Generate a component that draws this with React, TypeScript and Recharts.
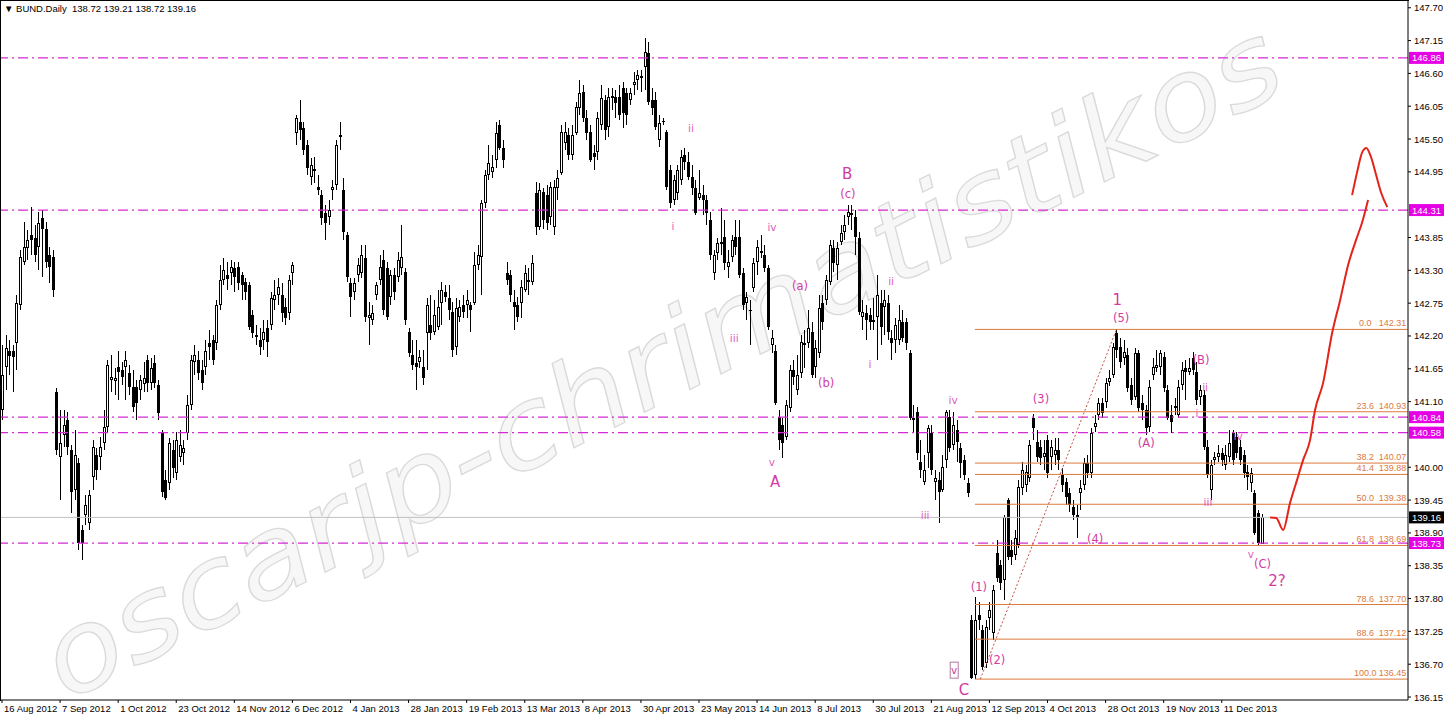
import React from 'react';
import {ComposedChart, Bar, Line, Scatter, XAxis, YAxis, ReferenceLine} from 'recharts';

const FONT = "Tahoma, 'Liberation Sans', Arial, sans-serif";

// daily OHLC, BUND, 16 Aug 2012 .. late Dec 2013
const opens = [
    140.96, 141.68, 141.94, 141.94, 142.08, 142.72, 143.44, 143.67, 143.89, 143.84,
    143.69, 144.17, 144.00, 143.56, 143.52, 141.26, 140.17, 140.54, 140.79, 140.29,
    139.62, 140.07, 138.95, 139.20, 139.06, 139.83, 140.20, 140.17, 140.40, 140.67,
    141.46, 141.45, 141.68, 141.63, 141.68, 141.58, 141.34, 141.34, 141.29, 141.40,
    141.80, 141.41, 141.75, 141.38, 140.57, 139.78, 139.73, 140.29, 139.90, 140.17,
    140.24, 140.57, 141.04, 141.76, 141.80, 141.63, 141.68, 142.08, 142.13, 142.08,
    142.72, 143.14, 143.22, 143.25, 143.34, 143.35, 143.22, 143.10, 143.05, 142.55,
    142.18, 142.13, 142.13, 142.33, 142.38, 142.80, 142.88, 142.88, 142.68, 142.58,
    143.25, 145.60, 145.79, 145.69, 145.40, 144.86, 145.00, 144.70, 144.56, 144.26,
    144.19, 144.65, 144.73, 145.54, 144.65, 143.89, 143.09, 142.94, 143.22, 143.25,
    143.51, 142.50, 142.47, 142.88, 143.14, 143.47, 143.34, 142.85, 143.22, 143.19,
    143.34, 143.27, 142.27, 141.88, 141.75, 141.76, 141.68, 142.25, 142.38, 142.27,
    142.35, 142.75, 142.94, 142.84, 142.60, 142.02, 142.52, 142.72, 142.72, 142.72,
    142.75, 143.39, 143.52, 144.43, 144.90, 144.95, 145.15, 145.73, 145.35, 143.25,
    143.22, 142.77, 142.72, 142.75, 142.97, 143.14, 143.10, 144.60, 144.03, 144.61,
    144.56, 144.19, 144.03, 144.68, 144.93, 145.43, 145.57, 145.23, 145.60, 146.02,
    146.29, 145.85, 145.62, 145.27, 145.28, 145.73, 146.16, 145.70, 146.22, 146.21,
    146.21, 146.36, 146.27, 146.16, 146.41, 146.49, 146.56, 146.71, 146.94, 146.16,
    146.16, 145.48, 145.80, 145.62, 144.98, 144.48, 144.60, 144.81, 145.23, 145.12,
    144.86, 144.68, 144.51, 144.56, 144.48, 144.14, 143.25, 143.59, 143.74, 143.86,
    143.35, 143.52, 143.86, 143.86, 143.25, 142.75, 142.63, 143.00, 143.44, 143.59,
    143.56, 143.34, 142.05, 141.94, 140.84, 140.71, 140.50, 140.99, 141.63, 141.29,
    141.58, 142.08, 142.08, 142.27, 141.68, 141.92, 142.75, 142.80, 143.10, 143.67,
    143.39, 143.77, 143.94, 144.19, 144.26, 144.19, 143.84, 142.52, 142.58, 142.55,
    142.47, 142.52, 142.75, 142.68, 142.75, 142.17, 142.13, 142.13, 142.43, 142.43,
    141.92, 140.79, 140.93, 140.09, 139.75, 140.24, 140.57, 139.75, 139.78, 139.62,
    140.12, 140.84, 140.37, 140.62, 140.32, 140.12, 139.73, 137.44, 136.52, 137.52,
    137.27, 136.72, 137.47, 137.22, 138.56, 138.36, 138.11, 139.45, 138.61, 138.53,
    138.69, 139.65, 139.70, 139.82, 140.82, 140.42, 140.34, 140.17, 140.45, 140.17,
    140.20, 140.29, 139.87, 139.75, 139.57, 139.33, 139.20, 139.57, 139.70, 140.07,
    139.90, 140.67, 140.87, 141.08, 141.10, 141.43, 141.55, 142.25, 142.02, 141.83,
    141.88, 141.38, 141.18, 141.91, 141.08, 140.96, 140.67, 141.55, 141.66, 141.68,
    141.85, 141.29, 140.87, 140.99, 140.87, 141.38, 141.66, 141.60, 141.83, 141.60,
    141.18, 141.21, 140.34, 139.62, 140.12, 140.17, 140.24, 140.04, 140.17, 140.57,
    140.50, 140.34, 140.20, 139.92, 139.73, 139.57, 139.23, 138.72,
];

const highs = [
    142.05, 142.22, 142.13, 142.05, 142.88, 143.64, 144.11, 143.97, 144.36, 144.06,
    144.28, 144.31, 144.11, 143.69, 143.64, 141.33, 140.96, 140.96, 140.93, 140.37,
    140.62, 140.15, 139.03, 139.53, 139.62, 140.45, 140.32, 140.50, 140.96, 141.80,
    141.88, 141.66, 141.94, 141.76, 141.94, 141.71, 141.63, 141.46, 141.55, 141.76,
    141.88, 141.83, 141.88, 141.46, 140.62, 139.95, 140.49, 140.45, 140.59, 140.62,
    140.45, 141.21, 141.88, 142.05, 141.94, 141.80, 142.13, 142.30, 142.22, 142.80,
    143.39, 143.51, 143.44, 143.47, 143.44, 143.44, 143.27, 143.17, 143.10, 142.63,
    142.38, 142.33, 142.47, 142.47, 142.94, 143.14, 143.17, 143.09, 142.84, 143.22,
    143.44, 145.90, 146.16, 145.79, 145.48, 145.18, 145.20, 144.90, 144.65, 144.40,
    144.48, 144.81, 145.48, 145.79, 144.85, 143.94, 143.17, 143.17, 143.51, 143.72,
    143.72, 142.77, 142.72, 143.10, 143.56, 143.64, 143.44, 143.30, 143.34, 143.61,
    144.06, 143.34, 142.33, 142.13, 142.13, 141.97, 141.97, 142.84, 142.88, 142.80,
    142.97, 143.10, 143.05, 143.05, 142.77, 142.84, 142.80, 142.88, 142.97, 142.77,
    143.61, 143.72, 144.48, 144.98, 145.40, 145.23, 145.79, 145.82, 145.48, 143.44,
    143.30, 142.97, 142.85, 143.14, 143.39, 143.34, 143.56, 144.78, 144.77, 144.68,
    144.73, 144.78, 144.81, 144.98, 145.73, 145.79, 145.69, 145.73, 146.12, 146.49,
    146.41, 145.99, 145.73, 145.40, 145.95, 146.41, 146.24, 146.36, 146.36, 146.32,
    146.41, 146.46, 146.36, 146.36, 146.63, 146.66, 146.66, 147.19, 147.13, 146.36,
    146.29, 145.90, 145.85, 145.65, 145.07, 144.90, 145.07, 145.32, 145.35, 145.28,
    145.07, 144.81, 144.98, 144.73, 144.56, 144.28, 143.64, 143.84, 144.35, 144.14,
    143.64, 143.89, 144.14, 144.14, 143.34, 142.94, 142.80, 143.51, 143.81, 143.89,
    143.72, 143.39, 142.30, 142.05, 140.96, 140.82, 141.13, 141.71, 141.80, 141.88,
    142.22, 142.30, 142.63, 142.43, 142.13, 142.88, 142.88, 143.22, 143.81, 143.81,
    143.77, 144.06, 144.23, 144.40, 144.40, 144.31, 143.94, 142.80, 142.72, 142.67,
    142.84, 143.22, 142.97, 142.97, 142.88, 142.30, 142.50, 142.72, 142.63, 142.50,
    141.97, 141.04, 141.01, 140.45, 140.20, 140.71, 140.71, 139.95, 139.92, 140.20,
    140.96, 140.96, 140.93, 140.79, 140.40, 140.20, 139.82, 137.52, 137.82, 137.74,
    137.35, 137.44, 137.74, 138.03, 138.78, 138.44, 139.20, 139.48, 138.78, 138.95,
    139.78, 140.09, 140.04, 140.45, 140.89, 140.62, 140.45, 140.45, 140.54, 140.45,
    140.49, 140.49, 139.99, 139.82, 139.65, 139.45, 139.37, 139.78, 140.15, 140.20,
    140.66, 140.87, 141.16, 141.16, 141.50, 141.63, 142.08, 142.31, 142.17, 142.13,
    142.00, 141.50, 142.00, 141.97, 141.21, 141.04, 141.46, 141.83, 141.97, 141.97,
    141.93, 141.38, 141.04, 141.16, 141.46, 141.76, 141.80, 141.83, 141.93, 141.76,
    141.38, 141.29, 140.45, 140.12, 140.25, 140.37, 140.32, 140.37, 140.62, 140.62,
    140.59, 140.45, 140.29, 140.04, 139.99, 139.62, 139.28, 139.21,
];

const lows = [
    140.79, 141.29, 141.55, 141.26, 141.63, 142.63, 143.39, 143.47, 143.56, 143.44,
    143.30, 143.19, 143.34, 143.09, 142.85, 140.20, 139.45, 140.34, 140.20, 139.23,
    139.45, 138.61, 138.44, 139.03, 138.95, 139.62, 139.78, 139.95, 140.29, 140.59,
    141.26, 141.21, 141.13, 141.38, 141.13, 141.21, 140.93, 140.79, 141.13, 141.26,
    141.26, 141.29, 141.33, 140.79, 139.50, 139.45, 139.62, 139.82, 139.78, 140.09,
    140.04, 140.45, 140.96, 141.55, 141.46, 141.29, 141.55, 141.80, 141.71, 141.97,
    142.63, 143.05, 142.97, 143.05, 142.94, 142.97, 142.80, 142.80, 142.30, 142.17,
    142.05, 141.88, 141.97, 141.84, 142.30, 142.63, 142.72, 142.44, 142.38, 142.47,
    143.05, 145.40, 145.48, 145.23, 144.90, 144.73, 144.76, 144.56, 144.06, 143.81,
    144.06, 144.48, 144.65, 145.32, 143.81, 143.10, 142.52, 142.80, 143.10, 143.17,
    142.43, 142.05, 142.38, 142.80, 143.05, 142.55, 142.47, 142.72, 142.80, 143.10,
    143.22, 142.38, 141.84, 141.63, 141.29, 141.66, 141.38, 141.63, 142.13, 142.22,
    142.30, 142.38, 142.77, 142.47, 141.85, 141.88, 142.43, 142.50, 142.50, 142.27,
    142.72, 143.30, 142.88, 144.35, 144.81, 144.85, 145.02, 145.32, 145.02, 143.05,
    142.77, 142.30, 142.43, 142.50, 142.94, 142.88, 143.05, 143.89, 143.97, 144.00,
    143.97, 144.06, 143.89, 144.48, 144.90, 145.32, 145.15, 145.15, 145.57, 145.90,
    145.79, 145.48, 145.12, 144.98, 145.15, 145.65, 145.48, 145.54, 145.99, 145.85,
    145.82, 145.69, 145.73, 146.07, 146.24, 146.32, 146.29, 146.32, 146.07, 145.90,
    145.65, 145.37, 145.73, 144.65, 144.35, 144.40, 144.48, 144.73, 144.98, 144.81,
    144.56, 144.23, 144.48, 144.23, 144.06, 143.47, 143.14, 143.47, 143.56, 143.30,
    143.17, 143.44, 143.56, 143.17, 142.63, 142.47, 142.05, 142.94, 143.22, 143.51,
    143.27, 142.30, 141.92, 141.04, 140.29, 140.15, 140.45, 140.93, 141.38, 141.21,
    141.50, 141.66, 142.00, 141.50, 141.50, 141.83, 142.30, 142.72, 143.05, 143.27,
    143.14, 143.72, 143.81, 144.06, 143.97, 143.56, 142.55, 142.30, 142.13, 142.30,
    142.30, 141.80, 142.05, 142.22, 142.13, 141.80, 141.92, 142.05, 142.10, 141.97,
    140.79, 140.59, 140.12, 139.82, 139.70, 139.99, 139.87, 139.45, 139.06, 139.58,
    139.99, 140.25, 140.29, 140.09, 139.82, 139.78, 139.50, 136.45, 136.45, 137.27,
    136.60, 136.63, 137.27, 137.10, 138.07, 137.94, 137.77, 138.44, 138.36, 138.44,
    138.64, 139.53, 139.58, 139.75, 140.45, 140.09, 140.04, 139.95, 139.82, 139.95,
    140.04, 139.95, 139.58, 139.37, 139.25, 139.11, 138.81, 139.28, 139.62, 139.82,
    139.82, 140.59, 140.79, 140.82, 140.99, 141.36, 141.50, 141.83, 141.66, 141.71,
    141.26, 141.04, 141.13, 140.93, 140.79, 140.54, 140.59, 141.46, 141.60, 141.55,
    141.26, 140.79, 140.57, 140.87, 140.82, 141.29, 141.13, 141.55, 141.55, 141.04,
    141.04, 140.29, 139.82, 139.45, 140.04, 140.09, 140.02, 139.95, 140.09, 140.04,
    140.15, 140.04, 139.82, 139.62, 139.58, 138.86, 138.69, 138.72,
];

const closes = [
    141.55, 142.00, 141.87, 141.84, 142.75, 143.52, 143.69, 143.81, 143.81, 143.56,
    144.09, 144.00, 143.44, 143.35, 142.97, 140.29, 140.40, 140.71, 140.34, 139.58,
    140.20, 138.73, 138.73, 139.37, 139.53, 140.34, 139.95, 140.34, 140.67, 141.71,
    141.51, 141.50, 141.60, 141.51, 141.80, 141.34, 141.01, 141.08, 141.46, 141.50,
    141.41, 141.66, 141.41, 140.91, 139.58, 139.48, 140.40, 139.99, 140.45, 140.37,
    140.32, 141.04, 141.80, 141.88, 141.58, 141.41, 141.94, 142.01, 141.80, 142.72,
    143.14, 143.30, 143.15, 143.35, 143.19, 143.09, 143.05, 142.94, 142.35, 142.25,
    142.22, 142.02, 142.27, 142.10, 142.84, 142.88, 143.02, 142.58, 142.50, 143.14,
    143.39, 145.85, 145.65, 145.32, 145.02, 145.07, 144.97, 144.65, 144.17, 144.09,
    144.31, 144.70, 145.40, 145.57, 143.94, 143.19, 142.85, 143.09, 143.39, 143.56,
    142.52, 142.55, 142.58, 143.05, 143.35, 142.63, 142.52, 143.22, 142.94, 143.47,
    143.52, 142.47, 141.92, 141.71, 141.68, 141.85, 141.50, 142.72, 142.25, 142.55,
    142.68, 142.97, 142.85, 142.63, 141.97, 142.67, 142.68, 142.60, 142.80, 142.63,
    143.39, 143.56, 144.43, 144.90, 145.10, 145.03, 145.60, 145.35, 145.15, 143.14,
    142.88, 142.68, 142.52, 143.02, 143.25, 143.10, 143.42, 144.03, 144.65, 144.14,
    144.09, 144.70, 144.70, 144.85, 145.62, 145.62, 145.23, 145.57, 146.04, 146.27,
    145.85, 145.60, 145.15, 145.20, 145.85, 146.19, 145.65, 146.21, 146.19, 146.11,
    145.90, 145.94, 145.90, 146.27, 146.46, 146.57, 146.52, 146.96, 146.12, 146.02,
    145.70, 145.77, 145.79, 144.70, 144.43, 144.81, 144.98, 145.20, 145.12, 144.86,
    144.68, 144.26, 144.60, 144.48, 144.26, 143.56, 143.56, 143.76, 143.77, 143.42,
    143.44, 143.81, 143.69, 143.22, 142.72, 142.85, 142.62, 143.42, 143.69, 143.62,
    143.34, 142.35, 142.17, 141.08, 140.45, 140.40, 141.04, 141.63, 141.51, 141.55,
    142.10, 142.05, 142.33, 141.55, 142.00, 142.67, 142.43, 143.14, 143.72, 143.42,
    143.67, 143.92, 144.06, 144.28, 144.23, 143.86, 142.60, 142.60, 142.47, 142.43,
    142.43, 142.88, 142.35, 142.80, 142.27, 142.08, 142.38, 142.47, 142.17, 142.08,
    140.82, 140.82, 140.24, 139.95, 139.95, 140.66, 139.95, 139.82, 139.58, 140.00,
    140.93, 140.32, 140.71, 140.42, 140.07, 139.87, 139.57, 136.47, 137.44, 137.44,
    136.65, 137.32, 137.61, 137.94, 138.14, 138.06, 139.17, 138.49, 138.49, 138.81,
    139.67, 139.95, 139.92, 140.37, 140.66, 140.17, 140.15, 140.24, 139.90, 140.34,
    140.29, 140.12, 139.70, 139.50, 139.37, 139.20, 139.15, 139.65, 140.07, 139.90,
    140.57, 140.74, 141.08, 140.91, 141.41, 141.50, 142.02, 141.97, 141.76, 141.93,
    141.33, 141.13, 141.91, 140.99, 140.96, 140.66, 141.34, 141.68, 141.71, 141.91,
    141.33, 140.82, 140.76, 141.02, 141.34, 141.63, 141.60, 141.66, 141.63, 141.13,
    141.29, 140.34, 139.87, 140.04, 140.17, 140.24, 140.12, 140.20, 140.40, 140.12,
    140.24, 140.12, 139.90, 139.83, 139.90, 138.90, 138.73, 139.16,
];

// x axis: a date label every 16 bars
const dateLabels = [
    '16 Aug 2012', '7 Sep 2012', '1 Oct 2012', '23 Oct 2012', '14 Nov 2012', '6 Dec 2012',
    '4 Jan 2013', '28 Jan 2013', '19 Feb 2013', '13 Mar 2013', '8 Apr 2013', '30 Apr 2013',
    '23 May 2013', '14 Jun 2013', '8 Jul 2013', '30 Jul 2013', '21 Aug 2013', '12 Sep 2013',
    '4 Oct 2013', '28 Oct 2013', '19 Nov 2013', '11 Dec 2013',
];
const dateTicks = dateLabels.map((_, k) => k * 16);

const priceTicks = [
    147.70, 147.15, 146.60, 146.05, 145.50, 144.95, 143.85, 143.30, 142.75, 142.20,
    141.65, 141.10, 140.00, 139.45, 138.90, 138.35, 137.80, 137.25, 136.70, 136.15,
];

const levelPrices = [146.86, 144.31, 140.84, 140.58, 138.73];
const lastPrice = 139.16;

const fibRatios = ['0.0', '23.6', '38.2', '41.4', '50.0', '61.8', '78.6', '88.6', '100.0'];
const fibPrices = [142.31, 140.93, 140.07, 139.88, 139.38, 138.69, 137.70, 137.12, 136.45];
const fibStartBar = 268;
const fibTrend = [{i: 269.5, p: 136.45}, {i: 307, p: 142.31}];

const waveLabels = [
    {i: 189.8, p: 145.69, text: 'ii', size: 'sm'},
    {i: 184.8, p: 144.04, text: 'i', size: 'sm'},
    {i: 212.1, p: 144.03, text: 'iv', size: 'sm'},
    {i: 201.7, p: 142.17, text: 'iii', size: 'sm'},
    {i: 212.1, p: 140.09, text: 'v', size: 'sm'},
    {i: 213.0, p: 139.75, text: 'A', size: 'lg'},
    {i: 232.8, p: 144.92, text: 'B', size: 'lg'},
    {i: 233.0, p: 144.58, text: '(c)', size: 'md'},
    {i: 219.8, p: 143.04, text: '(a)', size: 'md'},
    {i: 227.0, p: 141.41, text: '(b)', size: 'md'},
    {i: 244.9, p: 143.12, text: 'ii', size: 'sm'},
    {i: 239.1, p: 141.73, text: 'i', size: 'sm'},
    {i: 262.0, p: 141.13, text: 'iv', size: 'sm'},
    {i: 254.3, p: 139.20, text: 'iii', size: 'sm'},
    {i: 265.0, p: 136.26, text: 'C', size: 'lg'},
    {i: 262.3, p: 136.60, text: 'v', size: 'box'},
    {i: 269.1, p: 137.99, text: '(1)', size: 'md'},
    {i: 274.1, p: 136.77, text: '(2)', size: 'md'},
    {i: 286.2, p: 141.14, text: '(3)', size: 'md'},
    {i: 301.1, p: 138.80, text: '(4)', size: 'md'},
    {i: 307.2, p: 142.80, text: '1', size: 'lg'},
    {i: 308.3, p: 142.50, text: '(5)', size: 'md'},
    {i: 315.2, p: 140.40, text: '(A)', size: 'md'},
    {i: 330.3, p: 141.80, text: '(B)', size: 'md'},
    {i: 331.4, p: 141.34, text: 'ii', size: 'sm'},
    {i: 329.2, p: 140.91, text: 'i', size: 'sm'},
    {i: 332.2, p: 139.42, text: 'iii', size: 'sm'},
    {i: 340.5, p: 140.52, text: 'iv', size: 'sm'},
    {i: 344.0, p: 138.55, text: 'v', size: 'sm'},
    {i: 347.2, p: 138.38, text: '(C)', size: 'md'},
    {i: 351.2, p: 138.10, text: '2?', size: 'lg'},
];

// hand drawn forecast
const forecastUp = [
    {i: 349.3, p: 139.16}, {i: 351.0, p: 139.15}, {i: 352.9, p: 138.95}, {i: 354.8, p: 139.40},
    {i: 356.7, p: 139.78}, {i: 358.4, p: 140.12}, {i: 360.3, p: 140.45}, {i: 361.7, p: 140.96},
    {i: 363.9, p: 141.41}, {i: 366.4, p: 142.25}, {i: 368.6, p: 142.80}, {i: 370.8, p: 143.39},
    {i: 373.0, p: 143.81}, {i: 374.7, p: 144.11}, {i: 376.3, p: 144.48},
];
const forecastTop = [
    {i: 371.9, p: 144.56}, {i: 373.3, p: 144.95}, {i: 374.7, p: 145.28}, {i: 375.8, p: 145.35},
    {i: 377.1, p: 145.20}, {i: 378.5, p: 144.90}, {i: 379.9, p: 144.60}, {i: 381.6, p: 144.36},
];

const candles = closes.map((c, i) => ({i, o: opens[i], h: highs[i], l: lows[i], c}));
const fibRatioMarks = fibPrices.map((p, k) => ({i: 375.5, p, text: fibRatios[k]}));
const fibPriceMarks = fibPrices.map(p => ({i: 386.8, p, text: p.toFixed(2)}));

const X_DOMAIN: [number, number] = [-0.55, 387.3];
const Y_DOMAIN: [number, number] = [136.10, 147.83];

const LEVEL_COLOR = '#d42ad4';
const TAG_COLOR = '#e600e6';
const FIB_COLOR = '#dc7a3c';
const WAVE_COLOR = '#d23c9f';

const Candle = (props: any) => {
    const {x, y, width, height, payload} = props;
    if (!payload || height == null) return null;
    const {o, h, l, c} = payload;
    const k = h > l ? Math.abs(height) / (h - l) : 0;
    const top0 = Math.min(y, y + height);
    const cx = Math.round(x + width / 2) + 0.5;
    const yo = top0 + (h - o) * k;
    const yc = top0 + (h - c) * k;
    const t = Math.round(Math.min(yo, yc));
    const b = Math.round(Math.max(yo, yc));
    const up = c >= o;
    return (
        <g shapeRendering="crispEdges">
            <line x1={cx} x2={cx} y1={Math.round(top0)} y2={Math.round(top0 + Math.abs(height))} stroke="#000"/>
            {up ? (
                <rect x={cx - 1} y={t + 0.5} width={2} height={Math.max(b - t - 1, 0)} fill="#fff" stroke="#000"/>
            ) : (
                <rect x={cx - 1.5} y={t} width={3} height={Math.max(b - t, 1)} fill="#000"/>
            )}
        </g>
    );
};

const AxisTag = ({viewBox, text, bg}: any) => {
    if (!viewBox) return null;
    const right = viewBox.x + viewBox.width;
    const cy = viewBox.y;
    return (
        <g>
            <rect x={right + 1} y={cy - 6} width={36} height={12} fill={bg}/>
            <text x={right + 4} y={cy + 3.5} fontSize={9.5} fill="#fff" fontFamily={FONT}>{text}</text>
        </g>
    );
};

const PriceTick = ({x, y, payload}: any) => (
    <g>
        <line x1={x} x2={x + 3} y1={y} y2={y} stroke="#000"/>
        <text x={x + 6} y={y + 3.5} fontSize={9.5} fill="#000" fontFamily={FONT}>{payload.value.toFixed(2)}</text>
    </g>
);

const DateTick = ({x, y, payload}: any) => (
    <g>
        <line x1={x} x2={x} y1={y} y2={y + 3} stroke="#000"/>
        <text x={x + 2} y={y + 12} fontSize={9.5} fill="#000" fontFamily={FONT}>
            {dateLabels[Math.round(payload.value / 16)]}
        </text>
    </g>
);

const WaveText = (props: any) => {
    const {cx, cy, payload} = props;
    const size = payload.size === 'lg' ? 15 : payload.size === 'md' ? 11.5 : 10.5;
    const color = payload.size === 'sm' ? '#e060bd' : WAVE_COLOR;
    return (
        <g>
            {payload.size === 'box' && (
                <rect x={cx - 4} y={cy - 8} width={8} height={16} fill="none" stroke="#b07aa0" strokeWidth={1}/>
            )}
            <text x={cx} y={cy} textAnchor="middle" dominantBaseline="central" fontSize={size}
                  fill={color} fontFamily="'DejaVu Sans', Tahoma, sans-serif">{payload.text}</text>
        </g>
    );
};

const FibText = (anchor: 'middle' | 'end') => (props: any) => {
    const {cx, cy, payload} = props;
    return (
        <text x={cx} y={cy - 3} textAnchor={anchor} fontSize={9} fill={FIB_COLOR} fontFamily={FONT}>
            {payload.text}
        </text>
    );
};

export default function App() {
    return (
        <div style={{position: 'absolute', left: 0, top: 0, width: 1444, height: 716, background: '#fff', overflow: 'hidden'}}>
            <svg width={1444} height={716} style={{position: 'absolute', left: 0, top: 0}}>
                <text transform="translate(66 702) rotate(-26.6)" fontSize={112} fontStyle="italic"
                      fontFamily="'DejaVu Sans', sans-serif" fill="#f7f7f7" stroke="#dadada" strokeWidth={1.3}
                      textLength={1370} lengthAdjust="spacingAndGlyphs">
                    oscarjp-chrimatistikos
                </text>
            </svg>
            <div style={{position: 'absolute', left: 0, top: 0}}>
                <ComposedChart width={1444} height={716} data={candles} margin={{top: 0, right: 0, bottom: 0, left: 0}}>
                    <XAxis type="number" dataKey="i" domain={X_DOMAIN} allowDataOverflow ticks={dateTicks} interval={0}
                           height={16} tickSize={0} tickMargin={0} tickLine={false} axisLine={{stroke: '#000'}}
                           tick={<DateTick/>}/>
                    <YAxis type="number" orientation="right" domain={Y_DOMAIN} allowDataOverflow ticks={priceTicks}
                           interval={0} width={36} tickSize={0} tickMargin={0} tickLine={false}
                           axisLine={{stroke: '#000'}} tick={<PriceTick/>}/>

                    <ReferenceLine y={lastPrice} stroke="#c0c0c0" ifOverflow="visible"
                                   label={<AxisTag text={lastPrice.toFixed(2)} bg="#000"/>}/>

                    {fibPrices.map(p => (
                        <ReferenceLine key={'fib' + p} ifOverflow="visible" stroke={FIB_COLOR} strokeWidth={1}
                                       segment={[{x: fibStartBar, y: p}, {x: 387.2, y: p}]}/>
                    ))}

                    {levelPrices.map(p => (
                        <ReferenceLine key={'lvl' + p} y={p} stroke={LEVEL_COLOR} strokeWidth={1.2}
                                       strokeDasharray="10 4 2 4" ifOverflow="visible"
                                       label={<AxisTag text={p.toFixed(2)} bg={TAG_COLOR}/>}/>
                    ))}

                    <Bar dataKey={(d: any) => [d.l, d.h]} barSize={3} shape={(p: any) => <Candle {...p}/>}
                         isAnimationActive={false}/>

                    <Line data={fibTrend} dataKey="p" type="linear" stroke="#c8504a" strokeWidth={1}
                          strokeDasharray="2 2" dot={false} activeDot={false} legendType="none"
                          isAnimationActive={false}/>
                    <Line data={forecastUp} dataKey="p" type="monotone" stroke="#e3241b" strokeWidth={2}
                          dot={false} activeDot={false} legendType="none" isAnimationActive={false}/>
                    <Line data={forecastTop} dataKey="p" type="monotone" stroke="#e3241b" strokeWidth={2}
                          dot={false} activeDot={false} legendType="none" isAnimationActive={false}/>

                    <Scatter data={fibRatioMarks} dataKey="p" shape={FibText('middle')} isAnimationActive={false}/>
                    <Scatter data={fibPriceMarks} dataKey="p" shape={FibText('end')} isAnimationActive={false}/>
                    <Scatter data={waveLabels} dataKey="p" shape={(p: any) => <WaveText {...p}/>} isAnimationActive={false}/>
                </ComposedChart>
            </div>
            <div style={{
                position: 'absolute', left: 0, top: 0, width: 1409, height: 701, boxSizing: 'border-box',
                borderTop: '1px solid #000', borderLeft: '1px solid #000', pointerEvents: 'none',
            }}/>
            <div style={{position: 'absolute', left: 4, top: 3, fontSize: 9.5, fontFamily: FONT, color: '#000', whiteSpace: 'pre'}}>
                {'\u25BC BUND.Daily  138.72 139.21 138.72 139.16'}
            </div>
        </div>
    );
}
